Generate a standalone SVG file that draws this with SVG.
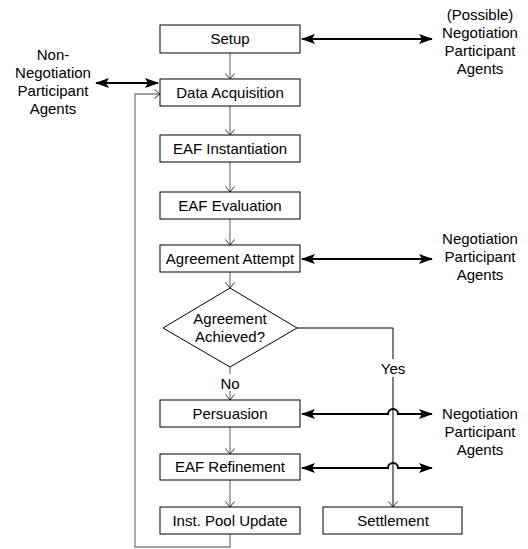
<svg xmlns="http://www.w3.org/2000/svg" width="528" height="549" viewBox="0 0 528 549">
<style>
text{font-family:"Liberation Sans",Arial,sans-serif;font-size:15px;fill:#000;text-anchor:middle}
.box{fill:#fff;stroke:#000;stroke-width:1}
.flow{fill:none;stroke:#808080;stroke-width:1.3}
.thin{fill:none;stroke:#000;stroke-width:1}
.bi{fill:none;stroke:#000;stroke-width:2}
</style>
<defs>
<marker id="v" markerUnits="userSpaceOnUse" markerWidth="12" markerHeight="12" refX="6" refY="6" orient="auto" viewBox="0 0 12 6" overflow="visible">
<path d="M0.5,1.5 L6,6 L0.5,10.5" fill="none" stroke="#333" stroke-width="1"/>
</marker>
<marker id="b" markerUnits="userSpaceOnUse" markerWidth="14" markerHeight="10" refX="13" refY="5" orient="auto-start-reverse" viewBox="0 0 14 10">
<path d="M0,0 L14,5 L0,10 L3,5 Z" fill="#000"/>
</marker>
</defs>
<g id="connectors">
<line class="flow" x1="230" y1="53" x2="230" y2="79" marker-end="url(#v)"/>
<line class="flow" x1="230" y1="106" x2="230" y2="135" marker-end="url(#v)"/>
<line class="flow" x1="230" y1="162" x2="230" y2="192" marker-end="url(#v)"/>
<line class="flow" x1="230" y1="219" x2="230" y2="245" marker-end="url(#v)"/>
<line class="flow" x1="230" y1="272" x2="230" y2="288" marker-end="url(#v)"/>
<line class="flow" x1="230" y1="367" x2="230" y2="374"/>
<line class="flow" x1="230" y1="391" x2="230" y2="400" marker-end="url(#v)"/>
<line class="flow" x1="230" y1="427" x2="230" y2="454" marker-end="url(#v)"/>
<line class="flow" x1="230" y1="480" x2="230" y2="507" marker-end="url(#v)"/>
<polyline class="flow" points="230,534 230,547 135,547 135,94 160,94" marker-end="url(#v)"/>
<polyline class="thin" points="297,328 393,328 393,359"/>
<line class="thin" x1="393" y1="377" x2="393" y2="507" marker-end="url(#v)"/>
<line class="bi" x1="302" y1="39" x2="432" y2="39" marker-start="url(#b)" marker-end="url(#b)"/>
<line class="bi" x1="96" y1="83" x2="158" y2="83" marker-start="url(#b)" marker-end="url(#b)"/>
<line class="bi" x1="302" y1="259" x2="432" y2="259" marker-start="url(#b)" marker-end="url(#b)"/>
<path class="bi" d="M302,414 L388,414 A5,5 0 0 1 398,414 L432,414" marker-start="url(#b)" marker-end="url(#b)"/>
<path class="bi" d="M302,468 L388,468 A5,5 0 0 1 398,468 L432,468" marker-start="url(#b)" marker-end="url(#b)"/>
</g>
<g id="setup"><rect class="box" x="160" y="25" width="140" height="28"/><text x="230" y="44">Setup</text></g>
<g id="data-acquisition"><rect class="box" x="160" y="79" width="140" height="27"/><text x="230" y="98">Data Acquisition</text></g>
<g id="eaf-instantiation"><rect class="box" x="160" y="135" width="140" height="27"/><text x="230" y="154">EAF Instantiation</text></g>
<g id="eaf-evaluation"><rect class="box" x="160" y="192" width="140" height="27"/><text x="230" y="211">EAF Evaluation</text></g>
<g id="agreement-attempt"><rect class="box" x="160" y="245" width="140" height="27"/><text x="230" y="264">Agreement Attempt</text></g>
<g id="agreement-achieved"><polygon class="box" points="230,288 297,328 230,367 163,328"/><text x="230" y="324">Agreement</text><text x="230" y="342">Achieved?</text></g>
<g id="label-no"><text x="230" y="389">No</text></g>
<g id="label-yes"><text x="393" y="374">Yes</text></g>
<g id="persuasion"><rect class="box" x="160" y="400" width="140" height="27"/><text x="230" y="419">Persuasion</text></g>
<g id="eaf-refinement"><rect class="box" x="160" y="454" width="140" height="26"/><text x="230" y="472">EAF Refinement</text></g>
<g id="inst-pool-update"><rect class="box" x="160" y="507" width="140" height="27"/><text x="230" y="526">Inst. Pool Update</text></g>
<g id="settlement"><rect class="box" x="323" y="507" width="139" height="27"/><text x="393" y="526">Settlement</text></g>
<g id="possible-npa"><text x="480" y="20">(Possible)</text><text x="480" y="38">Negotiation</text><text x="480" y="56">Participant</text><text x="480" y="74">Agents</text></g>
<g id="non-npa"><text x="53" y="60">Non-</text><text x="53" y="78">Negotiation</text><text x="53" y="96">Participant</text><text x="53" y="114">Agents</text></g>
<g id="npa-1"><text x="480" y="244">Negotiation</text><text x="480" y="262">Participant</text><text x="480" y="280">Agents</text></g>
<g id="npa-2"><text x="480" y="419">Negotiation</text><text x="480" y="437">Participant</text><text x="480" y="455">Agents</text></g>
</svg>
